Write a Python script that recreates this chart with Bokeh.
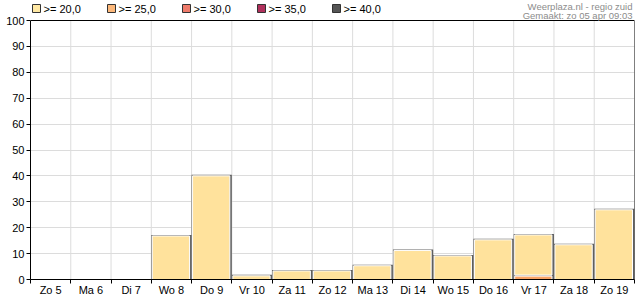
from bokeh.plotting import figure
from bokeh.models import FixedTicker, Range1d, ColumnDataSource
from bokeh.core.properties import value
from bokeh.embed import file_html
from bokeh.resources import INLINE

# ---- data ----
days = ["Zo 5", "Ma 6", "Di 7", "Wo 8", "Do 9", "Vr 10", "Za 11", "Zo 12",
        "Ma 13", "Di 14", "Wo 15", "Do 16", "Vr 17", "Za 18", "Zo 19"]
p_ge20 = [0, 0, 0, 17.2, 40.4, 1.8, 3.7, 3.7, 5.7, 11.6, 9.5, 15.7, 17.6, 13.8, 27.3]
p_ge25 = [0, 0, 0, 0, 0, 0, 0, 0, 0, 0, 0, 0, 1.7, 0, 0]
legend_labels = [">= 20,0", ">= 25,0", ">= 30,0", ">= 35,0", ">= 40,0"]
legend_colors = ["#FFE8A3", "#FDB87A", "#EF7B6B", "#B0305C", "#555555"]
y_ticks = [0, 10, 20, 30, 40, 50, 60, 70, 80, 90, 100]
y_max = 100
title_lines = ["Weerplaza.nl - regio zuid", "Gemaakt: zo 05 apr 09:03"]

# ---- layout constants (pixels) ----
W, H = 635, 300
ML, MR, MB = 30, 1, 21
TOP_PAD = 20                      # pixels above the 100-line used for legend/title
n = len(days)
frame_w = W - ML - MR
frame_h = H - MB
plot_h = frame_h - TOP_PAD
px_x = n / frame_w
px_y = y_max / plot_h
y_top = y_max + TOP_PAD * px_y

FONT = "Liberation Sans"

p = figure(width=W, height=H, output_backend="svg", toolbar_location=None,
           x_range=Range1d(0, n), y_range=Range1d(0, y_top),
           min_border_left=ML, min_border_right=MR, min_border_top=0, min_border_bottom=MB,
           background_fill_color="white", border_fill_color="white")
p.outline_line_color = None

# y axis
p.yaxis.ticker = FixedTicker(ticks=y_ticks, minor_ticks=[])
p.yaxis.bounds = (0, y_max)
p.yaxis.major_tick_out = 4
p.yaxis.major_tick_in = 0
p.yaxis.major_label_standoff = 2
p.yaxis.major_label_text_font = FONT
p.yaxis.major_label_text_font_size = "11px"
p.yaxis.major_label_text_color = "black"
p.yaxis.axis_line_color = "black"
p.yaxis.major_tick_line_color = "black"

# x axis: labels at centres, tick marks at boundaries
centers = [i + 0.5 for i in range(n)]
p.xaxis.ticker = FixedTicker(ticks=centers, minor_ticks=list(range(n + 1)))
p.xaxis.major_label_overrides = {c: d for c, d in zip(centers, days)}
p.xaxis.major_tick_line_color = None
p.xaxis.major_tick_out = 0
p.xaxis.major_tick_in = 0
p.xaxis.minor_tick_out = 4
p.xaxis.minor_tick_in = 0
p.xaxis.minor_tick_line_color = "black"
p.xaxis.major_label_standoff = 0
p.xaxis.major_label_text_font = FONT
p.xaxis.major_label_text_font_size = "11px"
p.xaxis.major_label_text_color = "black"
p.xaxis.axis_line_color = "black"

# grid
p.xgrid.visible = False
p.ygrid.ticker = FixedTicker(ticks=y_ticks[:-1])
p.ygrid.grid_line_color = "#dcdcdc"
bounds = list(range(1, n))
p.segment(x0=bounds, y0=[0] * len(bounds), x1=bounds, y1=[y_max] * len(bounds),
          line_color="#dcdcdc", line_width=1)

# bars
left = list(range(n))
right = [i + 1 for i in range(n)]
src = ColumnDataSource(dict(
    left=left, right=right, top=p_ge20, mid=p_ge25,
    ileft=[l + 1 * px_x for l in left],
    iright=[r - 2 * px_x for r in right],
    itop=[max(t - 1 * px_y, 0) for t in p_ge20],
))
p.quad(left="left", right="right", bottom=0, top="top", source=src,
       fill_color="#5f5f5f", line_color=None)
p.quad(left="ileft", right="iright", bottom="mid", top="itop", source=src,
       fill_color="#FFE29C", line_color="white", line_width=1)
sel = [i for i in range(n) if p_ge25[i] > 0]
src25 = ColumnDataSource(dict(
    left=[src.data["ileft"][i] for i in sel],
    right=[src.data["iright"][i] for i in sel],
    top=[p_ge25[i] - px_y for i in sel],
))
p.quad(left="left", right="right", bottom=0, top="top", source=src25,
       fill_color="#F9A466", line_color="white", line_width=1)

# frame border (top and right)
p.segment(x0=[0, n], y0=[y_max, 0], x1=[n, n], y1=[y_max, y_max],
          line_color="black", line_width=1)

# legend (drawn in the strip above the plot)
leg_y = y_max + (TOP_PAD - 8) * px_y
leg_x = [(2 + 75 * i) * px_x for i in range(len(legend_labels))]
p.rect(x=[x + 4 * px_x for x in leg_x], y=[leg_y] * len(leg_x), width=8, height=8,
       width_units="screen", height_units="screen",
       fill_color=legend_colors, line_color="#333333", line_width=1)
p.text(x=[x + 11 * px_x for x in leg_x], y=[leg_y] * len(leg_x), text=legend_labels,
       text_font=value(FONT), text_font_size="11px", text_color="black",
       text_baseline="middle", text_align="left")

# title lines (top right)
tx = (frame_w - 2) * px_x
p.text(x=[tx, tx], y=[y_max + (TOP_PAD - 5.5) * px_y, y_max + (TOP_PAD - 15) * px_y],
       text=title_lines, text_font=value(FONT), text_font_size="9.5px",
       text_color="#8c8c8c", text_baseline="middle", text_align="right")

open("out.html", "w").write(file_html(p, INLINE))
